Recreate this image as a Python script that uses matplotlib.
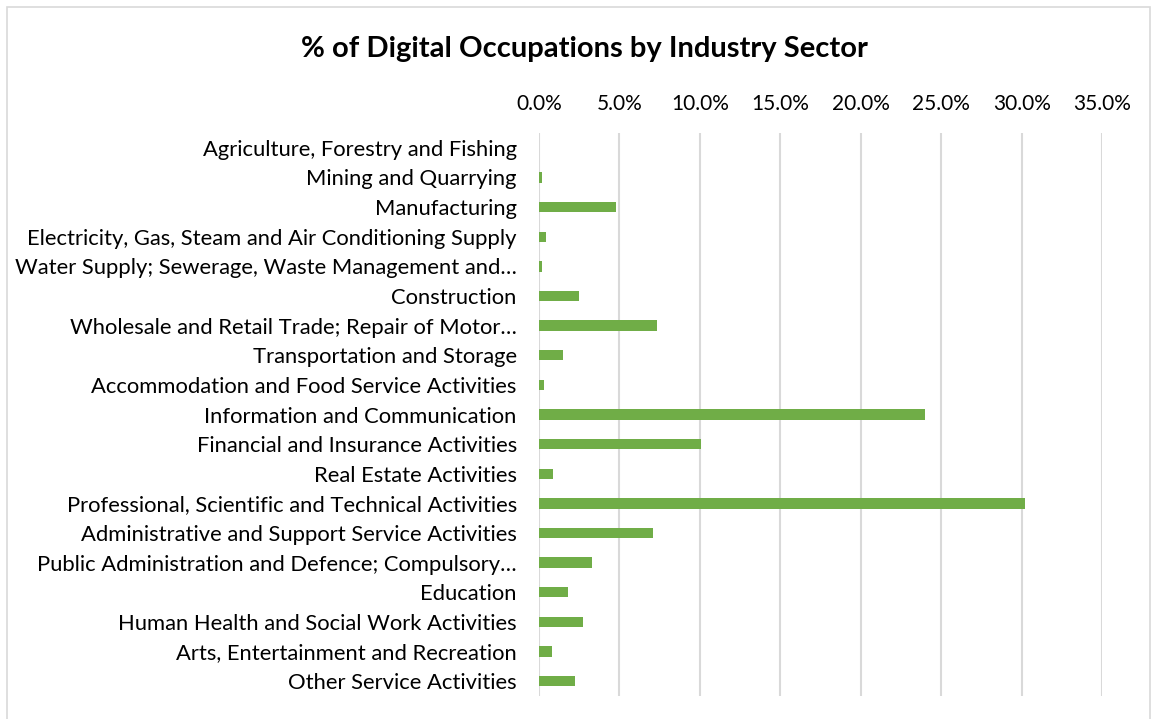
import numpy as np
from matplotlib import pyplot as plt
from matplotlib.ticker import FuncFormatter
from matplotlib.patches import Rectangle

plt.rcParams['font.family'] = ['Lato', 'DejaVu Sans']

sectors = [
    "Agriculture, Forestry and Fishing",
    "Mining and Quarrying",
    "Manufacturing",
    "Electricity, Gas, Steam and Air Conditioning Supply",
    "Water Supply; Sewerage, Waste Management and\u2026",
    "Construction",
    "Wholesale and Retail Trade; Repair of Motor\u2026",
    "Transportation and Storage",
    "Accommodation and Food Service Activities",
    "Information and Communication",
    "Financial and Insurance Activities",
    "Real Estate Activities",
    "Professional, Scientific and Technical Activities",
    "Administrative and Support Service Activities",
    "Public Administration and Defence; Compulsory\u2026",
    "Education",
    "Human Health and Social Work Activities",
    "Arts, Entertainment and Recreation",
    "Other Service Activities",
]
pct_digital = [0.0, 0.17, 4.81, 0.44, 0.21, 2.47, 7.34, 1.47, 0.31, 24.0,
               10.06, 0.89, 30.18, 7.07, 3.28, 1.80, 2.72, 0.79, 2.24]
x_ticks = [0, 5, 10, 15, 20, 25, 30, 35]

fig = plt.figure(figsize=(11.52, 7.19), dpi=100)
ax = fig.add_axes([0.4679, 0.032, 0.4890, 0.783])

y = np.arange(len(sectors))
ax.barh(y, pct_digital, height=0.35, color="#70AD47", zorder=3)
ax.set_ylim(len(sectors) - 0.5, -0.5)
ax.set_xlim(0, 35)
ax.set_yticks(y)
ax.set_yticklabels(sectors, fontsize=15.8, color="#000000")
ax.set_xticks(x_ticks)
ax.xaxis.set_major_formatter(FuncFormatter(lambda v, p: f"{v:.1f}%"))
ax.xaxis.tick_top()
ax.tick_params(axis="x", labelsize=15, length=0, pad=14)
ax.tick_params(axis="y", length=0, pad=16)
ax.grid(axis="x", color="#d9d9d9", linewidth=1.5, zorder=0)
for s in ax.spines.values():
    s.set_visible(False)

fig.text(0.507, 0.932, "% of Digital Occupations by Industry Sector",
         ha="center", va="center", fontsize=21, fontweight="bold")

fig.patches.append(Rectangle((7 / 1152, -0.01), 1143 / 1152, 1 - 7 / 719 + 0.01,
                             transform=fig.transFigure, fill=False,
                             edgecolor="#d9d9d9", linewidth=1.2))

fig.savefig("out.png", dpi=100)
